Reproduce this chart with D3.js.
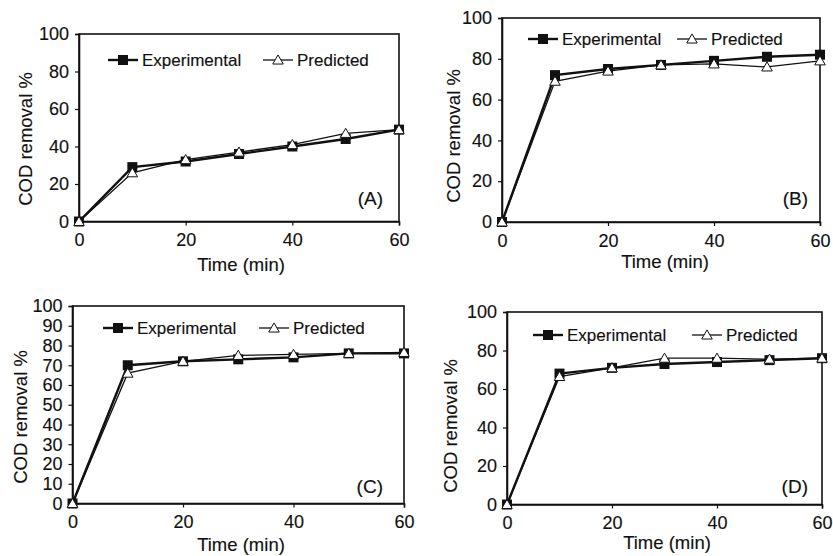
<!DOCTYPE html>
<html>
<head>
<meta charset="utf-8">
<script src="https://cdn.jsdelivr.net/npm/d3@7"></script>
<style>
  body { margin: 0; background: #fff; }
  svg { display: block; font-family: "Liberation Sans", Arial, sans-serif; }
  svg text { stroke: #111; stroke-width: 0.15px; }
</style>
</head>
<body>
<svg id="chart" width="833" height="556"></svg>
<script>
// time points (min)
const times = [0, 10, 20, 30, 40, 50, 60];
const xTicks = [0, 20, 40, 60];
const yTicks20 = [0, 20, 40, 60, 80, 100];
const yTicks10 = [0, 10, 20, 30, 40, 50, 60, 70, 80, 90, 100];

const seriesNames = ["Experimental", "Predicted"];
const panelLabels = ["(A)", "(B)", "(C)", "(D)"];
const xTitle = "Time (min)";
const yTitle = "COD removal %";

// COD removal %
const expA = [0, 29, 32, 36, 40, 44, 49];
const predA = [0, 26, 33, 37, 41, 47, 49];
const expB = [0, 72, 75, 77, 79, 81, 82];
const predB = [0, 69, 74, 77, 77.5, 76, 79];
const expC = [0, 70, 72, 73, 74, 76, 76];
const predC = [0, 66, 72, 75, 75.5, 76, 76.5];
const expD = [0, 68, 71, 73, 74, 75, 76];
const predD = [0, 66.5, 71, 76, 76, 75.5, 76];

// layout of each panel (pixel boxes, legend and label spots)
const layout = [
  {box: [79, 34, 399, 221.5], leg: [108, 263, 60], lab: [383, 205], xt: [241, 271], yt: [32, 139]},
  {box: [502, 18, 820, 222], leg: [528, 677, 39], lab: [808, 205], xt: [665, 268], yt: [460, 136]},
  {box: [72.5, 306, 404, 503.5], leg: [103, 259, 328], lab: [383, 493], xt: [241, 551], yt: [27, 417]},
  {box: [507, 312, 822, 504.5], leg: [533, 692, 335], lab: [808, 493], xt: [667, 549], yt: [457, 426]}
];

const panels = [
  {exp: expA, pred: predA, yTicks: yTicks20},
  {exp: expB, pred: predB, yTicks: yTicks20},
  {exp: expC, pred: predC, yTicks: yTicks10},
  {exp: expD, pred: predD, yTicks: yTicks20}
];

const ink = "#111";
const svg = d3.select("#chart");

const square = d3.symbol().type(d3.symbolSquare).size(100);
const triangle = d3.symbol().type(d3.symbolTriangle).size(48);

panels.forEach((p, i) => {
  const L = layout[i];
  const [x0, y0, x1, y1] = L.box;

  const x = d3.scaleLinear().domain([0, 60]).range([x0, x1]);
  const y = d3.scaleLinear().domain([0, 100]).range([y1, y0]);

  const g = svg.append("g");

  // frame
  g.append("rect")
    .attr("x", x0).attr("y", y0)
    .attr("width", x1 - x0).attr("height", y1 - y0)
    .attr("fill", "none").attr("stroke", ink).attr("stroke-width", 1.6);

  // axes
  const xAxis = g.append("g")
    .attr("transform", `translate(0,${y1})`)
    .call(d3.axisBottom(x).tickValues(xTicks).tickSize(4).tickPadding(8).tickFormat(d3.format("d")));
  const yAxis = g.append("g")
    .attr("transform", `translate(${x0},0)`)
    .call(d3.axisLeft(y).tickValues(p.yTicks).tickSize(4).tickPadding(6).tickFormat(d3.format("d")));

  [xAxis, yAxis].forEach(a => {
    a.select(".domain").attr("stroke", ink).attr("stroke-width", 1.6);
    a.selectAll(".tick line").attr("stroke", ink).attr("stroke-width", 1.2);
    a.selectAll(".tick text")
      .attr("fill", ink)
      .style("font-size", "18px")
      .style("font-family", "'Liberation Sans', Arial, sans-serif");
  });

  // titles
  g.append("text")
    .attr("x", L.xt[0]).attr("y", L.xt[1])
    .attr("text-anchor", "middle")
    .attr("fill", ink).style("font-size", "18.5px")
    .text(xTitle);

  g.append("text")
    .attr("transform", `translate(${L.yt[0]},${L.yt[1]}) rotate(-90)`)
    .attr("text-anchor", "middle")
    .attr("fill", ink).style("font-size", "18.5px")
    .text(yTitle);

  // panel label
  g.append("text")
    .attr("x", L.lab[0]).attr("y", L.lab[1])
    .attr("text-anchor", "end")
    .attr("fill", ink).style("font-size", "19px")
    .text(panelLabels[i]);

  const line = d3.line()
    .x((d, j) => x(times[j]))
    .y(d => y(d));

  // experimental
  g.append("path")
    .datum(p.exp)
    .attr("d", line)
    .attr("fill", "none").attr("stroke", ink).attr("stroke-width", 2.4);

  g.selectAll(".sq")
    .data(p.exp)
    .join("path")
    .attr("class", "sq")
    .attr("transform", (d, j) => `translate(${x(times[j])},${y(d)})`)
    .attr("d", square)
    .attr("fill", ink);

  // predicted
  g.append("path")
    .datum(p.pred)
    .attr("d", line)
    .attr("fill", "none").attr("stroke", ink).attr("stroke-width", 1.3);

  g.selectAll(".tri")
    .data(p.pred)
    .join("path")
    .attr("class", "tri")
    .attr("transform", (d, j) => `translate(${x(times[j])},${y(d) + 1})`)
    .attr("d", triangle)
    .attr("fill", "#fff").attr("stroke", ink).attr("stroke-width", 1);

  // legend
  const ly = L.leg[2];
  seriesNames.forEach((name, k) => {
    const lx = L.leg[k];
    const lg = g.append("g");
    lg.append("line")
      .attr("x1", lx).attr("x2", lx + 30)
      .attr("y1", ly).attr("y2", ly)
      .attr("stroke", ink).attr("stroke-width", k === 0 ? 2.4 : 1.3);
    lg.append("path")
      .attr("transform", `translate(${lx + 15},${k === 0 ? ly : ly + 1})`)
      .attr("d", k === 0 ? square : triangle)
      .attr("fill", k === 0 ? ink : "#fff")
      .attr("stroke", k === 0 ? "none" : ink);
    lg.append("text")
      .attr("x", lx + 34).attr("y", ly)
      .attr("dy", "0.35em")
      .attr("fill", ink).style("font-size", "17px")
      .text(name);
  });
});
</script>
</body>
</html>
